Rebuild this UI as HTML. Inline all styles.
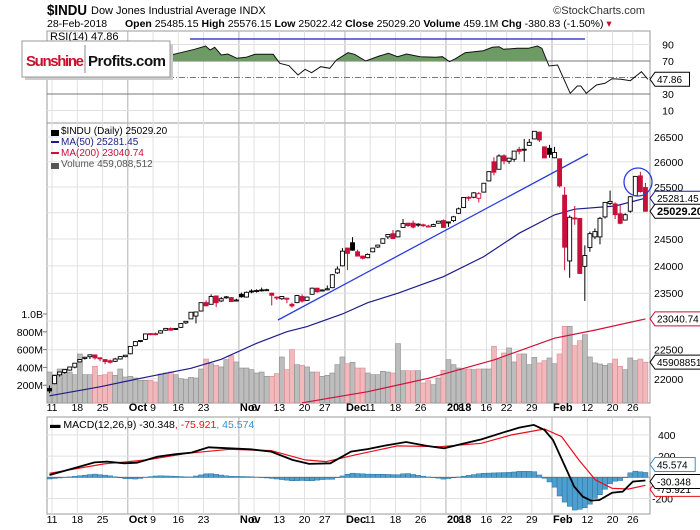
<!DOCTYPE html>
<html><head><meta charset="utf-8">
<style>
body{margin:0;background:#fff;}
svg{display:block;font-family:"Liberation Sans",sans-serif;}
</style></head>
<body>
<svg id="c" width="700" height="530" viewBox="0 0 700 530">
<text x="47" y="15" font-size="15" font-weight="bold" textLength="40" lengthAdjust="spacingAndGlyphs">$INDU</text>
<text x="91" y="14" font-size="11">Dow Jones Industrial Average  INDX</text>
<text x="645" y="14" font-size="11" fill="#333" text-anchor="end">©StockCharts.com</text>
<text x="47" y="27" font-size="10.5">28-Feb-2018</text>
<text x="125" y="27" font-size="10.5"><tspan font-weight="bold">Open</tspan> 25485.15 <tspan font-weight="bold">High</tspan> 25576.15 <tspan font-weight="bold">Low</tspan> 25022.42 <tspan font-weight="bold">Close</tspan> 25029.20 <tspan font-weight="bold">Volume</tspan> 459.1M <tspan font-weight="bold">Chg</tspan> -380.83 (-1.50%) <tspan fill="#c8102e">▾</tspan></text>
<g id="grid"></g>
<g id="marks"></g>
<g id="labels"></g>
</svg>
<script>
// ---- data ----
const dayLabels = ["11","18","25","Oct","9","16","23","Nov","6","13","20","27","Dec","11","18","26","2018","8","16","22","29","Feb","12","20","26"];
const labelDays = [1,6,11,16,21,26,31,38,41,46,51,55,59,64,69,74,79,82,87,91,96,100,107,112,116];
const monthDays = [16,38,59,79,100];
const opens = [21840,21920,22070,22110,22150,22200,22290,22350,22380,22410,22360,22330,22310,22300,22340,22380,22430,22570,22650,22680,22780,22780,22790,22840,22870,22860,22890,22970,23040,23090,23180,23330,23300,23450,23360,23420,23420,23370,23480,23430,23540,23540,23560,23560,23500,23430,23400,23400,23300,23330,23440,23370,23480,23590,23540,23560,23600,23870,24000,24330,24430,24260,24180,24150,24260,24350,24420,24540,24600,24540,24720,24800,24800,24770,24770,24740,24740,24800,24850,24810,24850,24990,25100,25300,25300,25280,25400,25620,26000,25850,26120,26010,26050,26250,26250,26330,26460,26600,26300,26270,26080,26060,25340,24090,24900,24890,23990,24340,24540,24540,24920,25180,25170,24980,24860,25030,25330,25720,25490];
const highs = [21890,22060,22120,22160,22210,22270,22340,22380,22420,22420,22370,22340,22330,22360,22390,22410,22560,22650,22670,22780,22790,22800,22840,22880,22890,22880,22960,23000,23160,23170,23330,23370,23480,23450,23430,23450,23430,23400,23510,23530,23570,23570,23600,23580,23510,23440,23450,23420,23330,23470,23480,23440,23600,23600,23570,23640,23850,23990,24330,24340,24535,24300,24190,24230,24330,24390,24510,24590,24670,24670,24880,24810,24850,24800,24790,24770,24790,24840,24870,24830,24940,25100,25300,25320,25400,25400,25580,25810,26090,26150,26150,26080,26220,26300,26460,26460,26620,26610,26310,26340,26300,26060,25500,24950,25130,24900,24380,24640,24700,24920,25200,25430,25200,25150,24990,25320,25710,25800,25580];
const lows = [21760,21910,22040,22090,22140,22180,22280,22330,22340,22330,22300,22250,22260,22290,22330,22370,22420,22560,22630,22670,22750,22750,22780,22830,22830,22850,22880,22950,23040,22960,23170,23260,23300,23250,23340,23400,23340,23350,23420,23420,23500,23510,23530,23540,23280,23380,23380,23320,23240,23320,23330,23360,23480,23510,23530,23550,23590,23850,23990,23920,24280,24180,24120,24140,24250,24330,24410,24500,24500,24530,24710,24730,24700,24730,24730,24720,24730,24790,24710,24730,24820,24980,25090,25230,25280,25200,25390,25610,25730,25850,25950,25960,26000,26150,26000,26320,26450,26400,26070,26080,26070,25490,23920,23780,24770,23850,23360,24260,24500,24400,24890,25150,24880,24780,24850,25000,25320,25390,25020];
const closes = [21798,22057,22118,22158,22203,22268,22331,22370,22412,22359,22349,22296,22284,22340,22381,22405,22557,22641,22661,22775,22773,22761,22830,22872,22841,22871,22957,22997,23158,23163,23329,23274,23441,23329,23400,23434,23349,23377,23435,23516,23539,23548,23557,23563,23462,23422,23440,23409,23271,23458,23358,23430,23591,23526,23558,23580,23836,23940,24272,24231,24290,24180,24140,24211,24329,24386,24505,24585,24509,24651,24792,24755,24726,24782,24754,24746,24774,24838,24719,24824,24922,25075,25296,25283,25386,25369,25574,25803,25792,26116,26017,26072,26214,26210,26252,26392,26616,26439,26077,26149,26186,25521,24346,24913,24893,23860,24191,24601,24640,24893,25200,25219,24964,24798,24962,25310,25709,25410,25029];
const volumes = [348,318,382,382,348,318,551,318,318,412,311,318,348,311,382,292,300,281,255,255,255,236,326,337,348,318,274,262,288,281,382,494,442,423,405,487,532,461,393,393,375,337,348,300,300,330,517,375,599,431,423,405,348,348,300,311,337,431,517,442,457,393,393,337,318,318,356,348,337,667,363,363,363,363,225,251,206,281,367,487,431,393,375,382,375,382,382,382,637,494,562,618,461,551,551,431,513,450,476,506,442,551,862,862,644,700,768,517,450,438,423,442,494,412,375,506,476,494,459];
const ma50Days = [0,10,18,28,34,41,47,51,58,63,69,78,86,93,100,104,112,118];
const ma50Vals = [21717,21868,22010,22180,22335,22612,22814,22903,23126,23328,23499,23800,24170,24609,24958,25068,25131,25281];
const ma200Days = [50,63,75,88,100,108,118];
const ma200Vals = [21600,21785,22010,22324,22700,22843,23040];
const rsiDays = [0,0.75,2.3,5,8,12,16,20,24.6,28.7,30.9,31.8,32.7,34,35.3,37.1,38.9,40.7,44.3,45.6,47.4,49.2,50.6,51.9,53.7,55.5,56.8,59.1,60.4,62.6,65.3,67.1,68.9,70.7,73.4,76.5,77.8,79.2,80.5,82.3,84.1,85.9,87.7,89,89.9,92.6,94.8,96.6,97.5,98.9,100.6,103.1,104.5,105.2,106.3,108.3,110,111.4,113.2,115,117.2,118.5];
const rsiVals = [47.8,48.5,63.1,72,77,72,75,78,78.1,84.2,88.2,83.3,86.6,77.3,78.5,73.3,74.5,78.1,78.1,67.2,64.3,53,59.9,55.8,63.1,61.2,71.2,80.1,78.1,70,76,79.3,75.2,78.5,75.2,74.5,75.2,69.2,73.3,80.1,81.3,82.5,86.6,87.3,84.2,85.4,85.4,88.2,85.4,63.9,65.2,30.8,39.7,39.7,30.8,40.9,43,48.5,47.8,46.1,57,47.86];
const macdDays = [0,4.8,8.9,11.4,14.8,17.3,21.4,24.8,28.1,31.5,35.6,39.8,43.9,48.1,51.4,55.6,59.7,63.1,66.4,70.6,74.7,78.1,81.4,85.5,89.7,93,95.9,98,99.7,101.8,103.9,105.6,107.2,108.9,111.4,113.5,115.5,118];
const macdVals = [22,85,141,148,132,138,195,217,233,283,274,264,242,164,126,132,242,267,299,333,296,274,311,358,421,469,494,447,352,132,-88,-182,-220,-214,-145,-135,-41,-30.3];
const sigDays = [0,10.8,19.3,27.3,35.6,43.9,50.6,54.8,60.5,68.9,77.3,85.5,91.4,98,101.4,104.8,108.1,111.4,114.7,118];
const sigVals = [38,126,164,226,264,252,164,148,211,296,289,321,399,456,384,164,-25,-104,-110,-75.9];

// ---- scales ----
const X0=47, X1=650, DW=5.05;
const xd = i => X0 + DW*(i+0.5);
const LN=Math.log(26500);
const yp = v => 137 + (LN-Math.log(v))*1300;
const yv = m => 403 - m*0.089;
const yr = r => 61 + (70-r)*0.825;
const ym = v => 477.3 - v*0.106;
const NS="http://www.w3.org/2000/svg";
const G=document.getElementById('grid'), M=document.getElementById('marks'), L=document.getElementById('labels');
function el(tag, attrs, parent){const e=document.createElementNS(NS,tag);for(const k in attrs)e.setAttribute(k,attrs[k]);(parent||M).appendChild(e);return e;}
function txt(x,y,s,attrs,parent){const e=el('text',Object.assign({x:x,y:y,'font-size':10.5},attrs),parent||L);e.textContent=s;return e;}
function interp(ds,vs,d){if(d<=ds[0])return vs[0];for(let k=1;k<ds.length;k++){if(d<=ds[k]){const t=(d-ds[k-1])/(ds[k]-ds[k-1]);return vs[k-1]+t*(vs[k]-vs[k-1]);}}return vs[vs.length-1];}

// ---- panels ----
const panels=[{n:'rsi-panel',y0:31,y1:123},{n:'price-panel',y0:123,y1:403},{n:'macd-panel',y0:417,y1:514}];
panels.forEach(p=>{const r=el('rect',{x:X0,y:p.y0,width:X1-X0,height:p.y1-p.y0,fill:'#fff',stroke:'#999','stroke-width':1},G);

});
panels.forEach(p=>{labelDays.forEach(d=>{const isM=monthDays.includes(d);const x=X0+DW*d;
const l=el('line',{x1:x,x2:x,y1:p.y0,y2:p.y1,stroke:isM?'#b0b0b0':'#e0e0e0','stroke-width':1},G);

});});
[[90,'#e0e0e0',''],[70,'#777',''],[50,'#777','6,2,1,2'],[30,'#777',''],[10,'#e0e0e0','']].forEach(g=>{
const l=el('line',{x1:X0,x2:X1,y1:yr(g[0]),y2:yr(g[0]),stroke:g[1],'stroke-dasharray':g[2]},G);


if(g[0]!==50){const t=txt(668,yr(g[0])+4,String(g[0]),{'text-anchor':'middle'});

}});
const priceTicks=[26500,26000,25500,25000,24500,24000,23500,23000,22500,22000];
priceTicks.forEach(v=>{const l=el('line',{x1:X0,x2:X1,y1:yp(v),y2:yp(v),stroke:'#e0e0e0'},G);


const t=txt(654,yp(v)+4,String(v),{});

});
const volTicks=[200,400,600,800,1000];
const volTickLabels=['200M','400M','600M','800M','1.0B'];
volTicks.forEach((v,k)=>{const t=txt(43,yv(v)+4,volTickLabels[k],{'text-anchor':'end'});


el('line',{x1:43,x2:47,y1:yv(v),y2:yv(v),stroke:'#777'},G);});
[400,200,0,-200].forEach(v=>{const l=el('line',{x1:X0,x2:X1,y1:ym(v),y2:ym(v),stroke:v===0?'#999':'#e0e0e0'},G);


if(v!==0){const t=txt(v<0?652:658,ym(v)+4,String(v),{});

}});
[411,523].forEach(yy=>{dayLabels.forEach((s,k)=>{const d=labelDays[k];const isM=monthDays.includes(d);
const t=txt(X0+DW*d+(isM?1:0),yy,s,{'text-anchor':isM?'start':'middle','font-weight':isM?'bold':'normal','font-size':isM?11:10.5});

});});

// ---- RSI ----
let rp=rsiDays.map((d,k)=>xd(d).toFixed(1)+','+yr(rsiVals[k]).toFixed(1));
const cp=el('clipPath',{id:'ob'});el('rect',{x:X0,y:31,width:X1-X0,height:yr(70)-31},cp);
const fill=el('polygon',{points:xd(rsiDays[0])+','+yr(70)+' '+rp.join(' ')+' '+xd(rsiDays[rsiDays.length-1])+','+yr(70),fill:'#6e9a66','clip-path':'url(#ob)'});


const rl=el('polyline',{points:rp.join(' '),fill:'none',stroke:'#111','stroke-width':1});


const bl=el('line',{x1:190,x2:585,y1:39,y2:39,stroke:'#1a1acc','stroke-width':1.3});


let t=txt(50,40,'RSI(14) 47.86',{'font-size':11});



// ---- volume ----
volumes.forEach((v,i)=>{const dn=i>0&&closes[i]<closes[i-1];
const r=el('rect',{x:xd(i)-2.5,y:yv(v),width:5,height:403-yv(v),fill:dn?'#f2b9bd':'#bdbdbd',stroke:dn?'#d88a90':'#8c8c8c','stroke-width':0.6});

});
function maLine(ds,vs,col,name){const pts=ds.map((d,k)=>xd(d).toFixed(1)+','+yp(vs[k]).toFixed(1)).join(' ');
const l=el('polyline',{points:pts,fill:'none',stroke:col,'stroke-width':1.2});

}
maLine(ma200Days,ma200Vals,'#d0103a','ma200-line');
maLine(ma50Days,ma50Vals,'#1c1c8c','ma50-line');
const tl=el('line',{x1:278,y1:320,x2:588,y2:154,stroke:'#2a3ce0','stroke-width':1.3});


closes.forEach((c,i)=>{const o=opens[i];const dn=i>0&&c<closes[i-1];const col=dn?'#c8103a':'#000';const x=xd(i);
const w=el('line',{x1:x,x2:x,y1:yp(highs[i]),y2:yp(lows[i]),stroke:col,'stroke-width':1});


const top=yp(Math.max(o,c)),bot=yp(Math.min(o,c));const h=Math.max(1,bot-top);
const b=el('rect',{x:x-2,y:top,width:4,height:h,fill:c<o?col:'#fff',stroke:col,'stroke-width':0.9});

});
const circ=el('circle',{cx:638,cy:182,r:14,fill:'none',stroke:'#2a3ce0','stroke-width':1.3});


[['$INDU (Daily) 25029.20','#000'],['MA(50) 25281.45','#1c1c8c'],['MA(200) 23040.74','#c8103a'],['Volume 459,088,512','#555']].forEach((a,k)=>{
const tt=txt(61,134+k*11,a[0],{fill:a[1],'font-size':10});


el('rect',{x:51,y:130+k*11,width:8,height:k===0||k===3?6:2,fill:a[1]},L);});

// ---- MACD ----
for(let i=0;i<closes.length;i++){const h=interp(macdDays,macdVals,i)-interp(sigDays,sigVals,i);
const y0=ym(0),y1=ym(h);
const r=el('rect',{x:xd(i)-2.5,y:Math.min(y0,y1),width:5,height:Math.abs(y1-y0),fill:'#4c9fcf',stroke:'#2b6f9c','stroke-width':0.5});

}
const sl=el('polyline',{points:sigDays.map((d,k)=>xd(d).toFixed(1)+','+ym(sigVals[k]).toFixed(1)).join(' '),fill:'none',stroke:'#e8101a','stroke-width':1.2});


const ml=el('polyline',{points:macdDays.map((d,k)=>xd(d).toFixed(1)+','+ym(macdVals[k]).toFixed(1)).join(' '),fill:'none',stroke:'#000','stroke-width':1.8});


t=txt(50,428,'',{'font-size':10.5});
t.innerHTML='<tspan>▬ MACD(12,26,9) -30.348</tspan><tspan fill="#e8101a">, -75.921</tspan><tspan fill="#3b8fc8">, 45.574</tspan>';



// ---- value boxes ----
function vbox(y,s,col,bold,name){const g=el('g',{},L);
const w=s.length*(bold?6.4:5.7)+6;
el('polygon',{points:`650,${y} 655,${y-7} ${655+w},${y-7} ${655+w},${y+7} 655,${y+7}`,fill:'#fff',stroke:col,'stroke-width':1},g);
txt(657,y+3.8,s,{'font-weight':bold?'bold':'normal','font-size':bold?11:10},g);

}
vbox(yr(47.86),'47.86','#000',false,'rsi-value-box');
vbox(yp(25281.45),'25281.45','#1c1c8c',false,'ma50-value-box');
vbox(yp(25029.2),'25029.20','#000',true,'close-value-box');
vbox(yp(23040.74),'23040.74','#c8103a',false,'ma200-value-box');
vbox(yv(459),'45908851','#000',false,'volume-value-box');
vbox(ym(-75.9)+4,'-75.921','#e8101a',false,'signal-value-box');
vbox(ym(45.6)-8,'45.574','#3b8fc8',false,'histogram-value-box');
vbox(ym(-30.3)+1,'-30.348','#000',false,'macd-value-box');

// ---- logo ----
const lg=el('g',{},L);


el('rect',{x:25,y:44,width:148,height:36,fill:'#ccc'},lg);
el('rect',{x:22,y:41,width:148,height:36,fill:'#fff',stroke:'#999'},lg);
el('line',{x1:85,x2:85,y1:45,y2:73,stroke:'#888'},lg);
txt(26,66,'Sunshine',{fill:'#c8102e','font-weight':'bold','font-size':15,textLength:58},lg);
txt(88,66,'Profits.com',{fill:'#111','font-weight':'bold','font-size':15,textLength:78},lg);
</script>
</body></html>
